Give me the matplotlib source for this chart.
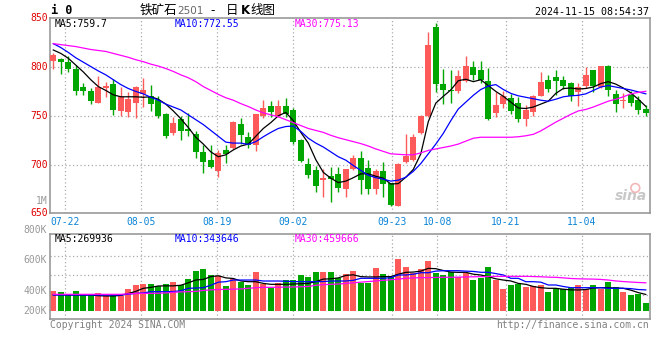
import matplotlib
matplotlib.use("Agg")
import matplotlib.pyplot as plt
import numpy as np

# ---- data (I2501 daily, 07-18 .. 11-15) ----
opens = [806.5, 808.5, 804.8, 798.3, 780.0, 775.9, 763.5, 778.8, 783.0, 755.3,
         754.0, 763.4, 772.7, 770.3, 766.7, 751.4, 732.0, 746.3, 736.7, 731.0,
         712.9, 704.7, 693.7, 714.6, 717.3, 741.2, 728.6, 720.0, 749.7, 760.0,
         749.7, 760.5, 756.0, 724.8, 700.3, 694.2, 683.7, 687.8, 690.1, 674.8,
         695.9, 707.1, 696.9, 674.8, 692.9, 680.6, 657.8, 703.0, 704.4, 732.7,
         749.7, 840.8, 783.0, 776.9, 775.9, 785.4, 800.0, 797.3, 785.4, 752.4,
         761.6, 768.5, 763.3, 746.3, 754.1, 770.1, 787.1, 789.8, 787.1, 783.7,
         774.2, 780.3, 796.6, 779.6, 800.7, 772.8, 765.0, 771.1, 766.0, 756.5]
highs = [814.7, 809.5, 811.0, 802.4, 783.3, 778.6, 790.8, 784.5, 787.5, 779.8,
         774.7, 781.0, 789.0, 781.6, 770.0, 752.5, 749.0, 749.7, 752.4, 734.0,
         720.0, 720.0, 715.0, 720.0, 745.0, 748.0, 733.7, 752.0, 766.0, 765.0,
         766.0, 768.0, 758.0, 726.0, 707.0, 698.6, 695.0, 697.0, 697.0, 695.5,
         709.5, 714.0, 704.4, 695.2, 703.0, 681.0, 702.0, 731.0, 731.0, 751.0,
         835.7, 845.0, 798.3, 797.3, 796.6, 810.9, 806.5, 805.8, 799.0, 774.5,
         775.0, 772.8, 769.4, 760.6, 771.5, 794.6, 792.2, 796.6, 791.2, 785.0,
         783.7, 800.0, 797.0, 800.7, 802.0, 776.9, 773.5, 775.0, 770.0, 760.6]
lows = [798.0, 792.5, 795.0, 771.8, 771.8, 761.6, 763.0, 769.6, 751.0, 750.0,
        749.0, 748.0, 759.5, 755.0, 747.3, 727.5, 730.0, 725.2, 729.3, 706.5,
        691.0, 696.0, 687.5, 701.4, 716.3, 720.7, 717.3, 714.0, 748.0, 749.0,
        749.0, 749.0, 720.7, 702.7, 686.5, 672.0, 667.0, 662.0, 672.0, 666.3,
        694.0, 669.7, 669.7, 669.7, 666.3, 657.5, 657.0, 702.0, 703.7, 731.6,
        748.6, 774.5, 762.2, 763.3, 773.5, 785.0, 787.0, 783.7, 746.0, 748.6,
        758.0, 751.4, 744.0, 739.5, 750.0, 770.0, 774.2, 771.8, 778.0, 765.0,
        759.9, 779.0, 774.2, 779.0, 770.0, 753.8, 758.2, 760.0, 751.4, 749.7]
closes = [812.4, 804.8, 798.3, 775.2, 775.2, 765.0, 779.5, 780.8, 755.5, 769.6,
          767.0, 779.8, 776.5, 762.1, 749.7, 729.3, 742.2, 734.4, 734.4, 712.5,
          703.0, 697.0, 711.5, 711.0, 743.5, 730.3, 720.0, 751.4, 758.2, 754.0,
          760.5, 752.0, 723.5, 703.7, 689.0, 677.6, 685.7, 685.0, 675.5, 695.2,
          707.1, 684.0, 674.8, 693.5, 680.0, 658.5, 700.3, 708.8, 728.2, 750.3,
          822.8, 783.0, 776.9, 775.2, 790.5, 801.4, 791.5, 787.0, 746.3, 760.9,
          770.7, 755.0, 746.3, 755.5, 770.8, 784.4, 777.6, 785.4, 781.0, 770.8,
          779.6, 792.2, 780.3, 800.7, 776.2, 762.6, 766.7, 763.3, 755.8, 752.4]

ma5 = [817.5, 814, 809, 802, 795, 787, 780, 776, 771.5, 769.5,
       769.5, 769.5, 769, 769.5, 767, 762, 755, 747, 738, 728,
       721, 713, 708, 710, 715, 719, 721, 729, 737, 743,
       750, 753.5, 745, 733, 722, 705, 692, 686, 681.5, 683,
       686.5, 690.5, 690.5, 688, 686, 680, 680.5, 687, 695, 711,
       744, 763, 770, 776.5, 786, 787.5, 785, 787, 781, 775,
       770, 764, 758, 757.5, 759, 762, 765, 773, 778, 778.5,
       777.5, 778, 779.5, 783, 785, 782.5, 778.5, 773.5, 767, 759.7]
ma10 = [824, 820, 815, 809.5, 805, 800.5, 796, 792, 787, 782,
        778, 775, 772.5, 769, 766, 762, 759, 756, 751, 746,
        741, 735, 729, 723, 722, 722, 720.7, 723.5, 728.5, 733,
        737, 739, 739.5, 734, 727, 722, 718, 713, 708, 704.5,
        699, 694, 689, 686.5, 685, 683, 684, 687, 693, 701,
        711, 721, 732, 745, 757, 764, 771, 777, 780.5, 782,
        777, 773, 770.5, 769, 767.5, 766, 765, 767, 769.5, 770.5,
        771, 772.5, 776, 779.5, 781, 779.5, 778, 776.5, 774.5, 772.55]
ma30 = [824, 823, 822, 821, 819.5, 818, 817, 816, 814, 812,
        810, 807.5, 805.5, 803, 801, 798.5, 795.5, 792, 789, 785,
        780, 776, 772, 768.5, 766, 762.5, 759.5, 756, 753, 751,
        749, 746, 743, 740, 737, 735, 733, 730, 727.5, 725.5,
        723.5, 721.5, 719, 716, 713.5, 711, 710.5, 710, 710, 712,
        714.5, 716, 717.5, 719, 721, 724, 727, 728, 728, 728,
        728, 728, 728.5, 729.5, 731, 734.5, 739, 743.5, 747.5, 751.5,
        755, 756.5, 759, 762, 765, 767, 769.5, 772.5, 774, 775.13]

# volume in thousands
volume = [321, 315, 272, 326, 261, 261, 293, 261, 261, 249,
          359, 424, 440, 440, 412, 440, 473, 424, 522, 652,
          685, 587, 575, 408, 522, 478, 424, 631, 435, 380,
          452, 505, 505, 587, 549, 631, 631, 631, 543, 603,
          652, 456, 456, 706, 603, 559, 852, 717, 624, 689,
          820, 624, 587, 631, 559, 624, 510, 543, 717, 505,
          363, 429, 440, 391, 403, 424, 310, 380, 354, 380,
          424, 359, 424, 354, 473, 391, 310, 266, 277, 135]
vma5 = [265, 265, 263, 262, 261, 261, 250, 245, 245, 255,
        285, 320, 370, 385, 408, 410, 410, 420, 460, 505,
        515, 560, 575, 540, 530, 490, 478, 478, 450, 435,
        435, 435, 440, 445, 450, 480, 520, 525, 540, 580,
        590, 560, 555, 555, 560, 560, 600, 630, 635, 650,
        695, 690, 660, 635, 630, 631, 600, 587, 560, 525,
        505, 490, 450, 435, 400, 380, 370, 370, 355, 345,
        343, 350, 375, 380, 380, 375, 370, 340, 300, 270]
vma10 = [261, 261, 261, 261, 261, 261, 261, 261, 261, 261,
         275, 288, 295, 315, 315, 315, 318, 330, 370, 375,
         380, 420, 470, 478, 505, 505, 505, 505, 489, 489,
         489, 485, 480, 478, 478, 478, 480, 489, 489, 489,
         500, 533, 533, 533, 533, 543, 587, 587, 600, 624,
         624, 650, 657, 657, 657, 650, 645, 631, 631, 610,
         587, 533, 533, 478, 478, 470, 424, 424, 400, 380,
         380, 380, 380, 380, 370, 370, 370, 365, 350, 344]
vma30 = [272, 272, 272, 272, 272, 272, 272, 272, 272, 272,
         280, 285, 288, 288, 290, 295, 305, 312, 315, 320,
         335, 345, 350, 354, 356, 360, 370, 380, 386, 386,
         388, 390, 392, 395, 400, 420, 430, 435, 440, 450,
         460, 470, 480, 490, 500, 510, 520, 533, 540, 543,
         545, 547, 550, 550, 552, 555, 558, 560, 562, 565,
         565, 565, 565, 565, 562, 558, 552, 549, 540, 530,
         525, 522, 520, 515, 505, 490, 480, 472, 465, 460]

date_labels = ["07-22", "08-05", "08-19", "09-02", "09-23", "10-08", "10-21", "11-04"]
date_index = [2, 12, 22, 32, 45, 51, 60, 70]

price_ticks = [850, 800, 750, 700, 650]

RED = "#ff5a5a"
GREEN = "#00a600"
GRID = "#aaaaaa"
FRAME = "#999999"
MONO = "DejaVu Sans Mono"

W, H = 660, 360


def fx(x):
    return x / W


def fy(y):
    return 1 - y / H


fig = plt.figure(figsize=(6.6, 3.6), dpi=100)
fig.patch.set_facecolor("white")

ax = fig.add_axes([fx(50), fy(213.3), 600 / W, 195 / H])
axv = fig.add_axes([fx(50), fy(319), 600 / W, 85 / H])

n = len(closes)
xs = np.arange(n)
o = np.array(opens)
c = np.array(closes)
up = c >= o
cols = [RED if u else GREEN for u in up]

# sina spaces its date grid a touch wider than the candles
grid_x = [1.56 + (d - 2) * 7.6 / 7.5 for d in date_index]

for a in (ax, axv):
    a.set_xlim(-0.44, 79.56)
    for gx in grid_x:
        a.axvline(gx, color=GRID, lw=0.9, ls=(0, (1, 2)), zorder=0)
    for s in a.spines.values():
        s.set_color(FRAME)
        s.set_linewidth(1.2)
    a.set_xticks([])
    a.set_yticks([])

# ---- price panel ----
ax.set_ylim(650, 850)
for p in price_ticks[1:-1]:
    ax.axhline(p, color=GRID, lw=0.9, ls=(0, (1, 2)), zorder=0)

ax.vlines(xs, lows, highs, colors=cols, lw=1, zorder=2)
body = np.maximum(np.abs(c - o), 0.7)
ax.bar(xs, body, bottom=np.minimum(o, c), width=0.76, color=cols,
       linewidth=0, zorder=3)

ax.plot(xs, ma5, color="black", lw=0.9, zorder=4)
ax.plot(xs, ma10, color="#0000ff", lw=0.9, zorder=4)
ax.plot(xs, ma30, color="#ff00ff", lw=0.9, zorder=4)

for p in price_ticks:
    ax.text(-0.75, p, str(p), color="#e00000", fontsize=7, family=MONO,
            ha="right", va="center", clip_on=False)
ax.text(-0.75, 663, "1M", color="#999999", fontsize=7, family=MONO,
        ha="right", va="center", clip_on=False)

for gx, lab in zip(grid_x, date_labels):
    ax.text(gx, 641.5, lab, color="#0a84d6", fontsize=7, family=MONO,
            ha="center", va="center", clip_on=False)

ax.text(77.0, 668, "sina", color="#c8c8c8", fontsize=10, style="italic",
        fontweight="bold", ha="center", va="center", zorder=1)
ax.scatter([77.6], [676], s=40, facecolors="none", edgecolors="#f2b8b8",
           linewidths=1.2, zorder=1)

# ---- volume panel ----
axv.set_ylim(-130, 1255)
for v in (261, 587, 901):
    axv.axhline(v, color=GRID, lw=0.9, ls=(0, (1, 2)), zorder=0)
axv.bar(xs, volume, width=0.76, color=cols, linewidth=0, zorder=2)
axv.plot(xs, vma5, color="black", lw=0.9, zorder=3)
axv.plot(xs, vma10, color="#0000ff", lw=0.9, zorder=3)
axv.plot(xs, vma30, color="#ff00ff", lw=0.9, zorder=3)

for lab, ypix in [("800K", 230), ("600K", 260), ("400K", 291), ("200K", 311)]:
    fig.text(fx(46.5), fy(ypix), lab, color="#999999", fontsize=7, family=MONO,
             ha="right", va="center")

# ---- header texts ----
fig.text(fx(51), fy(11), "i 0", fontsize=8.5, family=MONO, fontweight="bold",
         ha="left", va="center")
cjk = ["Noto Sans CJK SC", "DejaVu Sans"]
fig.text(fx(140), fy(10.5), "铁矿石", fontsize=9, family=cjk, ha="left", va="center")
fig.text(fx(177), fy(11), "2501", fontsize=7.5, family="DejaVu Sans",
         color="#666666", ha="left", va="center")
fig.text(fx(210), fy(10.5), "-", fontsize=9, family=cjk, ha="left", va="center")
fig.text(fx(226), fy(10.5), "日", fontsize=9, family=cjk, ha="left", va="center")
fig.text(fx(241), fy(10.5), "K", fontsize=8.5, family="DejaVu Sans",
         fontweight="bold", ha="left", va="center")
fig.text(fx(250), fy(10.5), "线图", fontsize=9, family=cjk, ha="left", va="center")
fig.text(fx(649), fy(12), "2024-11-15 08:54:37", fontsize=7.2, family=MONO,
         ha="right", va="center")

fig.text(fx(55), fy(24), "MA5:759.7", fontsize=7, family=MONO, color="black",
         ha="left", va="center")
fig.text(fx(175), fy(24), "MA10:772.55", fontsize=7, family=MONO, color="#0000ff",
         ha="left", va="center")
fig.text(fx(295), fy(24), "MA30:775.13", fontsize=7, family=MONO, color="#ff00ff",
         ha="left", va="center")

fig.text(fx(55), fy(239), "MA5:269936", fontsize=7, family=MONO, color="black",
         ha="left", va="center")
fig.text(fx(175), fy(239), "MA10:343646", fontsize=7, family=MONO, color="#0000ff",
         ha="left", va="center")
fig.text(fx(295), fy(239), "MA30:459666", fontsize=7, family=MONO, color="#ff00ff",
         ha="left", va="center")

fig.text(fx(50), fy(325), "Copyright 2024 SINA.COM", fontsize=7, family=MONO,
         color="#808080", ha="left", va="center")
fig.text(fx(649), fy(325), "http://finance.sina.com.cn", fontsize=7, family=MONO,
         color="#808080", ha="right", va="center")

fig.savefig("out.png", dpi=100, facecolor="white")
